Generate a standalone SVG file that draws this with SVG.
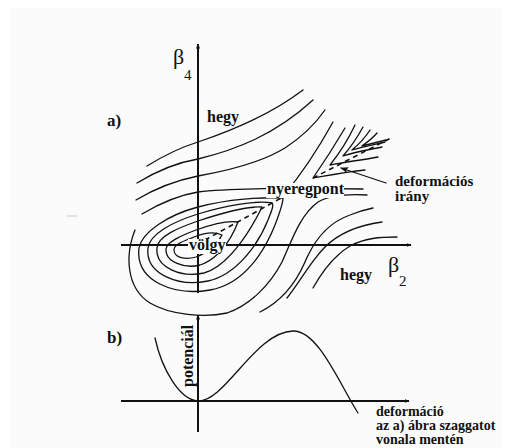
<svg xmlns="http://www.w3.org/2000/svg" width="516" height="448" viewBox="0 0 516 448">
<style>
.c{fill:none;stroke:#111;stroke-width:1.3;stroke-linecap:round;stroke-linejoin:round}
.ax{fill:none;stroke:#111;stroke-width:2}
.d{fill:none;stroke:#111;stroke-width:1.6;stroke-dasharray:5 4}
.t{font-family:"Liberation Serif","Times New Roman",serif;font-weight:bold;font-size:16px;fill:#111}
.g{font-family:"Liberation Serif","Times New Roman",serif;font-size:22px;fill:#111}
.s{font-family:"Liberation Serif","Times New Roman",serif;font-size:15px;fill:#111}
.w{fill:#fff}
</style>
<defs>
<marker id="ar" viewBox="0 0 10 10" refX="9" refY="5" markerWidth="5" markerHeight="5" orient="auto" markerUnits="userSpaceOnUse"><path d="M0,1 L10,5 L0,9 Z" fill="#111"/></marker>
<marker id="ah" viewBox="0 0 10 10" refX="9" refY="5" markerWidth="10" markerHeight="8" orient="auto" markerUnits="userSpaceOnUse"><path d="M0,1 L10,5 L0,9 L2,5 Z" fill="#111"/></marker>
</defs>
<rect x="0" y="0" width="516" height="448" fill="#fff"/>
<rect x="10" y="8" width="492" height="440" fill="#fbfbfb"/>
<line x1="67" y1="216" x2="77" y2="216" stroke="#ccc" stroke-width="1"/>

<g id="contours">
<path class="c" d="M147,166 C168,153 185,146 198,142 C228,132 270,115 303,90"/>
<path class="c" d="M137,183 C160,169 180,162 198,159 C235,150 275,135 313,100"/>
<path class="c" d="M136,200 C156,188 178,180 198,176 C232,170 262,162 285,148 C305,135 318,120 325,110"/>
<path class="c" d="M142,214 C162,202 180,195 198,192 C230,188 300,188 363,189"/>
<path class="c" d="M283,196 C295,182 312,160 333,122"/>
<path class="c" d="M174,250 C174,258 186,260 196,257 C208,253 218,243 222,235 C214,231 204,233 194,237 C184,241 174,244 174,250 Z"/>
<path class="c" d="M166,249 C165,262 185,269 200,265 C216,260 230,243 238,222 C226,220 210,225 196,230 C180,236 167,242 166,249 Z"/>
<path class="c" d="M157,248 C155,268 182,278 204,273 C226,267 248,236 262,207 C246,206 222,213 198,221 C178,228 158,236 157,248 Z"/>
<path class="c" d="M148,248 C145,275 180,287 208,281 C236,275 258,245 268,220 C272,210 274,205 272,203 C256,200 224,206 198,214 C172,222 150,234 148,248 Z"/>
<path class="c" d="M139,248 C135,282 175,296 210,290 C245,284 265,250 275,225 C280,212 283,204 283,198 C262,197 228,199 198,207 C168,215 142,232 139,248 Z"/>
<path class="c" d="M135,230 C125,255 126,288 150,303 C170,315 205,318 227,313 C250,305 270,285 282,262 C292,240 300,215 318,202 C330,195 350,194 367,195"/>
<path class="c" d="M260,312 C280,302 295,285 305,262 C315,238 330,222 350,215 C360,211 368,209 373,208"/>
<path class="c" d="M287,298 C300,282 310,262 325,247 C340,232 360,225 382,222"/>
<path class="c" d="M313,288 C322,272 335,255 350,246 C365,238 380,237 397,237"/>
<path class="c" d="M345,128 C335,145 322,165 313,178 C325,176 345,172 365,170"/>
<path class="c" d="M355,125 C348,140 338,155 330,165 C345,162 362,160 378,157"/>
<path class="c" d="M363,127 C357,138 350,148 343,156 C355,152 368,150 382,147"/>
<path class="c" d="M370,130 C365,138 358,145 352,150 C362,147 372,145 385,142"/>
<path class="c" d="M377,133 C372,139 366,143 362,146 C370,144 378,142 386,140"/>
</g>

<g id="connectors">
<line class="ax" x1="198" y1="293" x2="198" y2="44" marker-end="url(#ar)"/>
<line class="ax" x1="121" y1="245" x2="411" y2="245" marker-end="url(#ar)"/>
<line class="d" x1="205" y1="240" x2="283" y2="197"/>
<line class="d" x1="313" y1="178" x2="393" y2="137"/>
<line class="c" x1="386" y1="183" x2="341" y2="168" marker-end="url(#ah)"/>
<line class="ax" x1="198" y1="432" x2="198" y2="315" marker-end="url(#ar)"/>
<line class="ax" x1="121" y1="401" x2="409" y2="401" marker-end="url(#ar)"/>
<path class="c" d="M155,338 C162,370 180,400 198,401 C225,402 255,332 293,331 C318,330 340,385 358,413"/>
</g>

<g id="labels">
<text class="g" x="173" y="64">β</text><text class="s" x="184" y="80">4</text>
<text class="g" x="388" y="272">β</text><text class="s" x="399" y="286">2</text>
<text class="t" x="107" y="126" style="font-size:17px">a)</text>
<text class="t" x="107" y="343" style="font-size:17px">b)</text>
<text class="t" x="207" y="122">hegy</text>
<rect class="w" x="266" y="183" width="78" height="15"/>
<text class="t" x="267" y="194">nyeregpont</text>
<text class="t" x="395" y="186" style="font-size:15px">deformációs</text>
<text class="t" x="395" y="201" style="font-size:15px">irány</text>
<rect class="w" x="188" y="239" width="38" height="15"/>
<text class="t" x="189" y="250">völgy</text>
<text class="t" x="340" y="280">hegy</text>
<text class="t" transform="translate(193,387) rotate(-90)">potenciál</text>
<text class="t" x="376" y="416" style="font-size:14px">deformáció</text>
<text class="t" x="376" y="430" style="font-size:14px">az a) ábra szaggatot</text>
<text class="t" x="376" y="444" style="font-size:14px">vonala mentén</text>
</g>
</svg>
